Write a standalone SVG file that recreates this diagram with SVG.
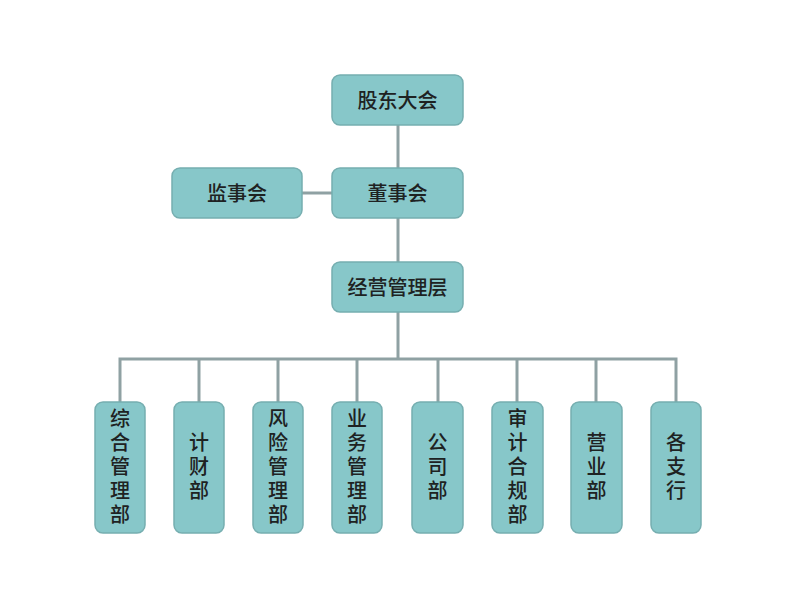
<svg xmlns="http://www.w3.org/2000/svg" width="802" height="601" viewBox="0 0 802 601">
<style>
.box{fill:#87C7C9;stroke:#76AEB0;stroke-width:1.5}
.t{font-family:"Noto Sans CJK SC","Liberation Sans",sans-serif;font-size:20px;font-weight:500;fill:#1E2222;text-anchor:middle;dominant-baseline:central}
.v{font-family:"Noto Sans CJK SC","Liberation Sans",sans-serif;font-size:20px;font-weight:500;fill:#1E2222;text-anchor:middle;writing-mode:vertical-rl;letter-spacing:4px}
.ln{stroke:#8FA1A3;stroke-width:3;fill:none}
</style>
<rect width="802" height="601" fill="#FFFFFF"/>
<g id="connectors">
<line class="ln" x1="398" y1="125" x2="398" y2="168"/>
<line class="ln" x1="302" y1="193" x2="332" y2="193"/>
<line class="ln" x1="398" y1="218" x2="398" y2="262"/>
<line class="ln" x1="398" y1="312" x2="398" y2="359"/>
<polyline class="ln" points="120,402 120,359 676,359 676,402"/>
<line class="ln" x1="199" y1="359" x2="199" y2="402"/>
<line class="ln" x1="278" y1="359" x2="278" y2="402"/>
<line class="ln" x1="357" y1="359" x2="357" y2="402"/>
<line class="ln" x1="438" y1="359" x2="438" y2="402"/>
<line class="ln" x1="517" y1="359" x2="517" y2="402"/>
<line class="ln" x1="596" y1="359" x2="596" y2="402"/>
</g>
<g id="gudong"><rect class="box" x="332" y="75" width="131" height="50" rx="8"/><text class="t" x="397.5" y="99">股东大会</text></g>
<g id="dongshi"><rect class="box" x="332" y="168" width="131" height="50" rx="8"/><text class="t" x="397.5" y="192">董事会</text></g>
<g id="jianshi"><rect class="box" x="172" y="168" width="130" height="50" rx="8"/><text class="t" x="237" y="192">监事会</text></g>
<g id="jingying"><rect class="box" x="332" y="262" width="131" height="50" rx="8"/><text class="t" x="397.5" y="286">经营管理层</text></g>
<g id="zonghe"><rect class="box" x="95" y="402" width="50" height="131" rx="8"/><text class="v" x="120" y="468">综合管理部</text></g>
<g id="jicai"><rect class="box" x="174" y="402" width="50" height="131" rx="8"/><text class="v" x="199" y="468">计财部</text></g>
<g id="fengxian"><rect class="box" x="253" y="402" width="50" height="131" rx="8"/><text class="v" x="278" y="468">风险管理部</text></g>
<g id="yewu"><rect class="box" x="332" y="402" width="50" height="131" rx="8"/><text class="v" x="357" y="468">业务管理部</text></g>
<g id="gongsi"><rect class="box" x="412" y="402" width="51" height="131" rx="8"/><text class="v" x="437.5" y="468">公司部</text></g>
<g id="shenji"><rect class="box" x="492" y="402" width="51" height="131" rx="8"/><text class="v" x="517.5" y="468">审计合规部</text></g>
<g id="yingye"><rect class="box" x="571" y="402" width="51" height="131" rx="8"/><text class="v" x="596.5" y="468">营业部</text></g>
<g id="gezhihang"><rect class="box" x="651" y="402" width="50" height="131" rx="8"/><text class="v" x="676" y="468">各支行</text></g>
</svg>
